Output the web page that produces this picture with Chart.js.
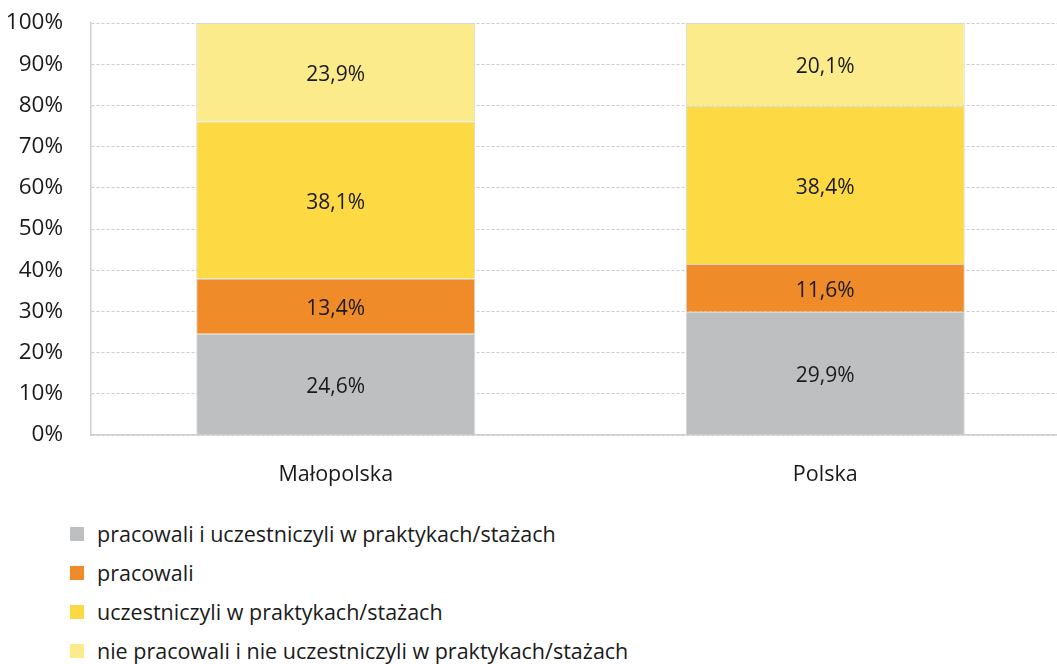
<!DOCTYPE html>
<html>
<head>
<meta charset="utf-8">
<script src="https://cdn.jsdelivr.net/npm/chart.js@4/dist/chart.umd.min.js"></script>
<style>
  html, body { margin: 0; padding: 0; background: #fff; overflow: hidden; width: 1057px; height: 664px; }
  #wrap { position: absolute; left: 0; top: 0; width: 1080px; height: 500px; }
  #legend { position: absolute; left: 70px; top: 514px; font-family: "Open Sans", sans-serif; font-size: 21.5px; color: #1a1a1a; }
  .item { display: flex; align-items: center; height: 39px; }
  .box { width: 14px; height: 14px; margin-right: 13px; }
</style>
</head>
<body>
<div id="wrap"><canvas id="c" width="1080" height="500"></canvas></div>
<div id="legend"></div>
<script>
const categories = ["Małopolska", "Polska"];
const seriesNames = [
  "pracowali i uczestniczyli w praktykach/stażach",
  "pracowali",
  "uczestniczyli w praktykach/stażach",
  "nie pracowali i nie uczestniczyli w praktykach/stażach"
];
const workedAndInterned = [24.6, 29.9];
const workedOnly = [13.4, 11.6];
const internedOnly = [38.1, 38.4];
const neither = [23.9, 20.1];
const yTicks = [0, 10, 20, 30, 40, 50, 60, 70, 80, 90, 100];
const colors = ["#bebfc1", "#f08b29", "#fdd944", "#fbeb8b"];

const FONT = '"Open Sans", sans-serif';
const seriesValues = [workedAndInterned, workedOnly, internedOnly, neither];

const datasets = seriesValues.map((vals, i) => ({
  label: seriesNames[i],
  data: vals,
  backgroundColor: colors[i],
  borderColor: "#d6d6d6",
  borderWidth: 1,
  barPercentage: 0.57,
  categoryPercentage: 1.0
}));

const valueLabels = {
  id: "valueLabels",
  afterDatasetsDraw(chart) {
    const ctx = chart.ctx;
    ctx.save();
    ctx.font = "21px " + FONT;
    ctx.fillStyle = "#1a1a1a";
    ctx.textAlign = "center";
    ctx.textBaseline = "middle";
    chart.data.datasets.forEach((ds, di) => {
      const meta = chart.getDatasetMeta(di);
      meta.data.forEach((el, j) => {
        const p = el.getProps(["x", "y", "base"], true);
        const v = ds.data[j];
        ctx.fillText(v.toFixed(1).replace(".", ",") + "%", p.x, (p.y + p.base) / 2 + 3);
      });
    });
    ctx.restore();
  }
};

new Chart(document.getElementById("c"), {
  type: "bar",
  data: { labels: categories, datasets },
  options: {
    responsive: false,
    animation: false,
    layout: { padding: { top: 23, right: 10, bottom: 0, left: 0 } },
    plugins: { legend: { display: false }, tooltip: { enabled: false } },
    scales: {
      x: {
        stacked: true,
        grid: { display: false },
        border: { display: true, color: "#cfcfcf", width: 1.5 },
        ticks: { color: "#1a1a1a", font: { family: FONT, size: 21.5 }, padding: 19 },
        afterFit(scale) { scale.height = 65; }
      },
      y: {
        stacked: true,
        min: 0,
        max: 100,
        afterBuildTicks(scale) { scale.ticks = yTicks.map(v => ({ value: v })); },
        grid: { color: "#cccccc", lineWidth: 1, drawTicks: false },
        border: { display: true, color: "#cfcfcf", width: 1.5, dash: [3, 2] },
        ticks: { color: "#1a1a1a", font: { family: FONT, size: 22.5 }, padding: 28, callback: v => v + "%" },
        afterFit(scale) { scale.width = 91; scale.paddingTop = 0; scale.paddingBottom = 0; }
      }
    }
  },
  plugins: [valueLabels]
});

const legend = document.getElementById("legend");
seriesNames.forEach((name, i) => {
  const row = document.createElement("div");
  row.className = "item";
  const b = document.createElement("span");
  b.className = "box";
  b.style.background = colors[i];
  const t = document.createElement("span");
  t.textContent = name;
  row.appendChild(b);
  row.appendChild(t);
  legend.appendChild(row);
});
</script>
</body>
</html>
